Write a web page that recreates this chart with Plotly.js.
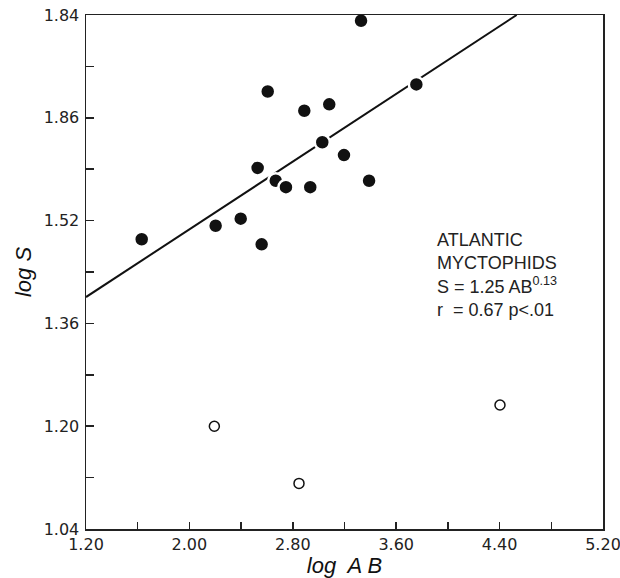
<!DOCTYPE html>
<html>
<head>
<meta charset="utf-8">
<script src="https://cdn.plot.ly/plotly-3.0.1.min.js"></script>
<style>html,body{margin:0;padding:0;background:#fff}#chart{width:620px;height:578px}</style>
</head>
<body>
<div id="chart"></div>
<script>
// Filled circles (Atlantic myctophids)
var filledX = [1.631, 2.203, 2.397, 2.559, 2.528, 2.606, 2.668, 2.747, 2.935, 2.889, 3.082, 3.028, 3.196, 3.390, 3.756, 3.328];
var filledY = [1.491, 1.512, 1.523, 1.483, 1.602, 1.721, 1.582, 1.572, 1.572, 1.691, 1.701, 1.642, 1.622, 1.582, 1.732, 1.831];
// Open circles
var openX = [2.193, 2.848, 4.403];
var openY = [1.200, 1.111, 1.233];
// Regression line S = 1.25 AB^0.13
var fitX = [1.20, 4.532];
var fitY = [1.401, 1.84];
// Axis ticks (labelled); unlabelled ticks are minor ticks
var xTickVals = [1.20, 2.00, 2.80, 3.60, 4.40, 5.20];
var xTickText = ["1.20", "2.00", "2.80", "3.60", "4.40", "5.20"];
var yTickVals = [1.04, 1.20, 1.36, 1.52, 1.68, 1.84];
var yTickText = ["1.04", "1.20", "1.36", "1.52", "1.86", "1.84"];

var traces = [
  {x: fitX, y: fitY, type: 'scatter', mode: 'lines', line: {color: '#111', width: 2}, hoverinfo: 'skip'},
  {x: filledX, y: filledY, type: 'scatter', mode: 'markers',
   marker: {symbol: 'circle', size: 15, color: '#111', line: {color: '#fff', width: 2.5}}},
  {x: openX, y: openY, type: 'scatter', mode: 'markers',
   marker: {symbol: 'circle-open', size: 10, color: '#111', line: {color: '#111', width: 1.5}}}
];

var tickFont = {family: 'DejaVu Sans, sans-serif', size: 16, color: '#222'};
var layout = {
  width: 620, height: 578,
  margin: {l: 86, r: 17, t: 15, b: 49},
  paper_bgcolor: '#fff', plot_bgcolor: '#fff',
  showlegend: false,
  xaxis: {
    range: [1.20, 5.20], showgrid: false, zeroline: false,
    showline: true, mirror: true, linecolor: '#222', linewidth: 1.5,
    ticks: 'inside', ticklen: 7, tickwidth: 1.5, tickcolor: '#222',
    tickmode: 'array', tickvals: xTickVals, ticktext: xTickText,
    minor: {tick0: 1.20, dtick: 0.4, ticks: 'inside', ticklen: 7, tickwidth: 1.5, tickcolor: '#222'},
    tickfont: tickFont, ticklabeloverflow: 'allow',
    title: {text: 'log  A B', font: {family: 'Liberation Sans, Arial, sans-serif', size: 22, style: 'italic', color: '#111'}, standoff: 2}
  },
  yaxis: {
    range: [1.04, 1.84], showgrid: false, zeroline: false,
    showline: true, mirror: true, linecolor: '#222', linewidth: 1.5,
    ticks: 'inside', ticklen: 8, tickwidth: 1.5, tickcolor: '#222',
    tickmode: 'array', tickvals: yTickVals, ticktext: yTickText,
    minor: {tick0: 1.04, dtick: 0.08, ticks: 'inside', ticklen: 8, tickwidth: 1.5, tickcolor: '#222'},
    tickfont: tickFont, ticklabelstandoff: 2, ticklabeloverflow: 'allow',
    title: {text: 'log S', font: {family: 'Liberation Sans, Arial, sans-serif', size: 22, style: 'italic', color: '#111'}, standoff: 6}
  },
  annotations: [{
    xref: 'paper', yref: 'paper', x: 0.676, y: 0.585, xanchor: 'left', yanchor: 'top',
    align: 'left', showarrow: false,
    text: 'ATLANTIC<br>MYCTOPHIDS<br>S = 1.25 AB<sup>0.13</sup><br>r  = 0.67 p&lt;.01',
    font: {family: 'Liberation Sans, Arial, sans-serif', size: 18, color: '#222'}
  }]
};

Plotly.newPlot('chart', traces, layout, {displayModeBar: false, staticPlot: true});
</script>
</body>
</html>
